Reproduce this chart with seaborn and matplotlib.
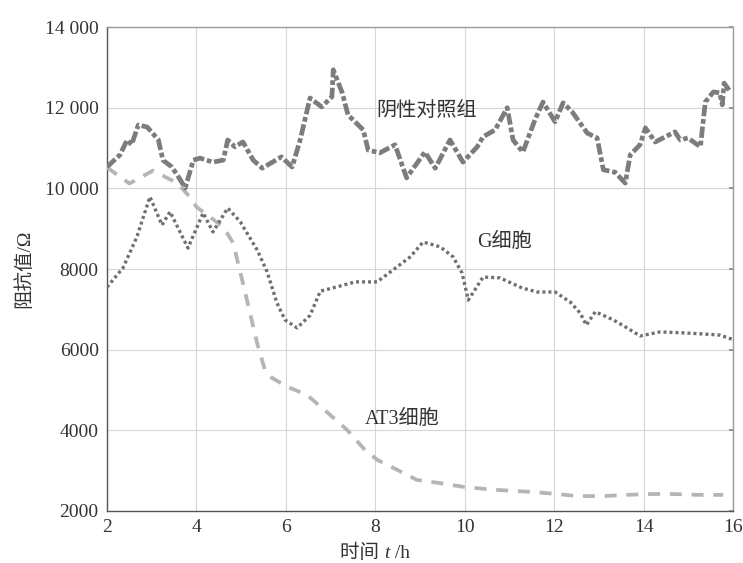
import matplotlib
matplotlib.use("Agg")
import matplotlib.pyplot as plt
import matplotlib.ticker as mticker
from matplotlib.offsetbox import TextArea, HPacker, AnchoredOffsetbox
import seaborn as sns

# Negative control group
ctrl_t = [2.0, 2.29, 2.45, 2.55, 2.7, 2.9, 3.15, 3.25, 3.45, 3.6, 3.75, 3.93, 4.08, 4.37,
          4.6, 4.7, 4.86, 5.04, 5.27, 5.47, 5.9, 6.14, 6.32, 6.54, 6.8, 7.03, 7.06, 7.26,
          7.39, 7.73, 7.84, 8.1, 8.44, 8.7, 9.11, 9.34, 9.67, 9.96, 10.28, 10.41, 10.68,
          10.95, 11.08, 11.3, 11.57, 11.75, 12.02, 12.2, 12.4, 12.74, 12.96, 13.1, 13.36,
          13.59, 13.7, 13.92, 14.04, 14.26, 14.7, 14.82, 14.99, 15.27, 15.38, 15.56, 15.7,
          15.76, 15.8, 15.94]
ctrl_r = [10530, 10830, 11200, 11080, 11570, 11520, 11200, 10700, 10530, 10280, 10010,
          10700, 10750, 10650, 10700, 11200, 11030, 11150, 10700, 10500, 10780, 10530,
          11200, 12240, 12020, 12270, 12940, 12370, 11820, 11450, 10950, 10880, 11080,
          10260, 10900, 10500, 11200, 10650, 11030, 11280, 11450, 12000, 11200, 10900,
          11700, 12140, 11650, 12120, 11900, 11370, 11250, 10460, 10400, 10130, 10830,
          11080, 11500, 11150, 11400, 11200, 11250, 11030, 12140, 12390, 12370, 12070,
          12610, 12390]

# G cells
g_t = [2.0, 2.36, 2.67, 2.96, 3.23, 3.41, 3.81, 4.15, 4.37, 4.7, 4.98, 5.36, 5.58, 5.8,
       5.98, 6.25, 6.54, 6.77, 7.15, 7.55, 8.04, 8.4, 8.78, 9.07, 9.45, 9.74, 9.94, 10.08,
       10.41, 10.79, 11.28, 11.62, 12.02, 12.36, 12.58, 12.72, 12.92, 13.32, 13.63, 13.92,
       14.37, 14.82, 15.33, 15.71, 16.0]
g_r = [7550, 8030, 8800, 9790, 9090, 9420, 8520, 9390, 8920, 9510, 9170, 8470, 7930, 7160,
       6740, 6540, 6850, 7450, 7560, 7680, 7680, 7980, 8300, 8670, 8550, 8300, 7900, 7230,
       7800, 7780, 7530, 7430, 7430, 7180, 6910, 6610, 6940, 6740, 6540, 6340,
       6440, 6420, 6390, 6360, 6250]

# AT3 cells
at3_t = [2.0, 2.5, 3.03, 3.57, 3.86, 4.0, 4.6, 4.82, 5.04, 5.2, 5.36, 5.53, 5.69, 6.03,
         6.47, 6.94, 7.37, 7.73, 8.04, 8.49, 8.93, 9.45, 9.96, 10.6, 11.53, 12.07, 12.51,
         13.1, 13.63, 14.15, 14.66, 15.2, 15.78]
at3_r = [10520, 10120, 10440, 10130, 9780, 9540, 9040, 8650, 7650, 6900, 6150, 5500, 5300,
         5080, 4880, 4430, 4010, 3560, 3270, 3020, 2770, 2690, 2600, 2530, 2470, 2420, 2370,
         2370, 2400, 2420, 2420, 2400, 2400]

series_labels = ["阴性对照组", "G细胞", "AT3细胞"]
x_ticks = [2, 4, 6, 8, 10, 12, 14, 16]
y_ticks = [2000, 4000, 6000, 8000, 10000, 12000, 14000]

sns.set_theme(style="white")
font_list = ["Liberation Serif", "Noto Sans CJK SC", "DejaVu Sans"]
plt.rcParams["font.family"] = font_list

fig = plt.figure(figsize=(7.43, 5.63), dpi=100)
ax = fig.add_axes([0.144, 0.0924, 0.8426, 0.8596])

sns.lineplot(x=at3_t, y=at3_r, ax=ax, color="#b5b5b5", lw=2.7, sort=False,
             estimator=None, linestyle=(0, (3.2, 2.6)), zorder=3)
sns.lineplot(x=g_t, y=g_r, ax=ax, color="#6f6f6f", lw=2.4, sort=False,
             estimator=None, linestyle=(0, (0.9, 0.9)), zorder=4)
sns.lineplot(x=ctrl_t, y=ctrl_r, ax=ax, color="#7c7c7c", lw=3.4, sort=False,
             estimator=None, linestyle=(0, (2.4, 0.6, 1.0, 0.6)), zorder=5)

ax.set_xlim(2, 16)
ax.set_ylim(2000, 14000)
ax.set_xticks(x_ticks)
ax.set_yticks(y_ticks)
ax.yaxis.set_major_formatter(mticker.FuncFormatter(
    lambda v, p: f"{int(v):,}".replace(",", " ") if v >= 10000 else f"{int(v)}"))
ax.grid(True, color="#d6d6d6", lw=0.8)
ax.tick_params(axis="both", direction="in", length=3, color="#888888",
               labelsize=14, labelcolor="#333333", pad=6, right=True, top=False)
for side, sp in ax.spines.items():
    sp.set_color("#555555" if side in ("left", "bottom") else "#999999")
    sp.set_linewidth(1.0)

text_kw = dict(fontsize=14.5, color="#333333")
ax.text(8.02, 11900, series_labels[0], va="center", ha="left", **text_kw)
ax.text(10.28, 8650, series_labels[1], va="center", ha="left", **text_kw)
ax.text(7.77, 4260, series_labels[2], va="center", ha="left", **text_kw)

# x-axis title with an italic variable name
lab_props = dict(fontsize=14, color="#333333", family=font_list)
xlab = HPacker(children=[
    TextArea("时间 ", textprops=lab_props),
    TextArea("t", textprops=dict(lab_props, style="italic")),
    TextArea(" /h", textprops=lab_props),
], align="baseline", pad=0, sep=0)
box = AnchoredOffsetbox(loc="upper center", child=xlab, frameon=False, pad=0,
                        bbox_to_anchor=(0.428, -0.068), bbox_transform=ax.transAxes,
                        borderpad=0)
ax.add_artist(box)

ax.set_ylabel("阻抗值/Ω", fontsize=14, color="#333333", labelpad=8)

fig.savefig("out.png", dpi=100)
